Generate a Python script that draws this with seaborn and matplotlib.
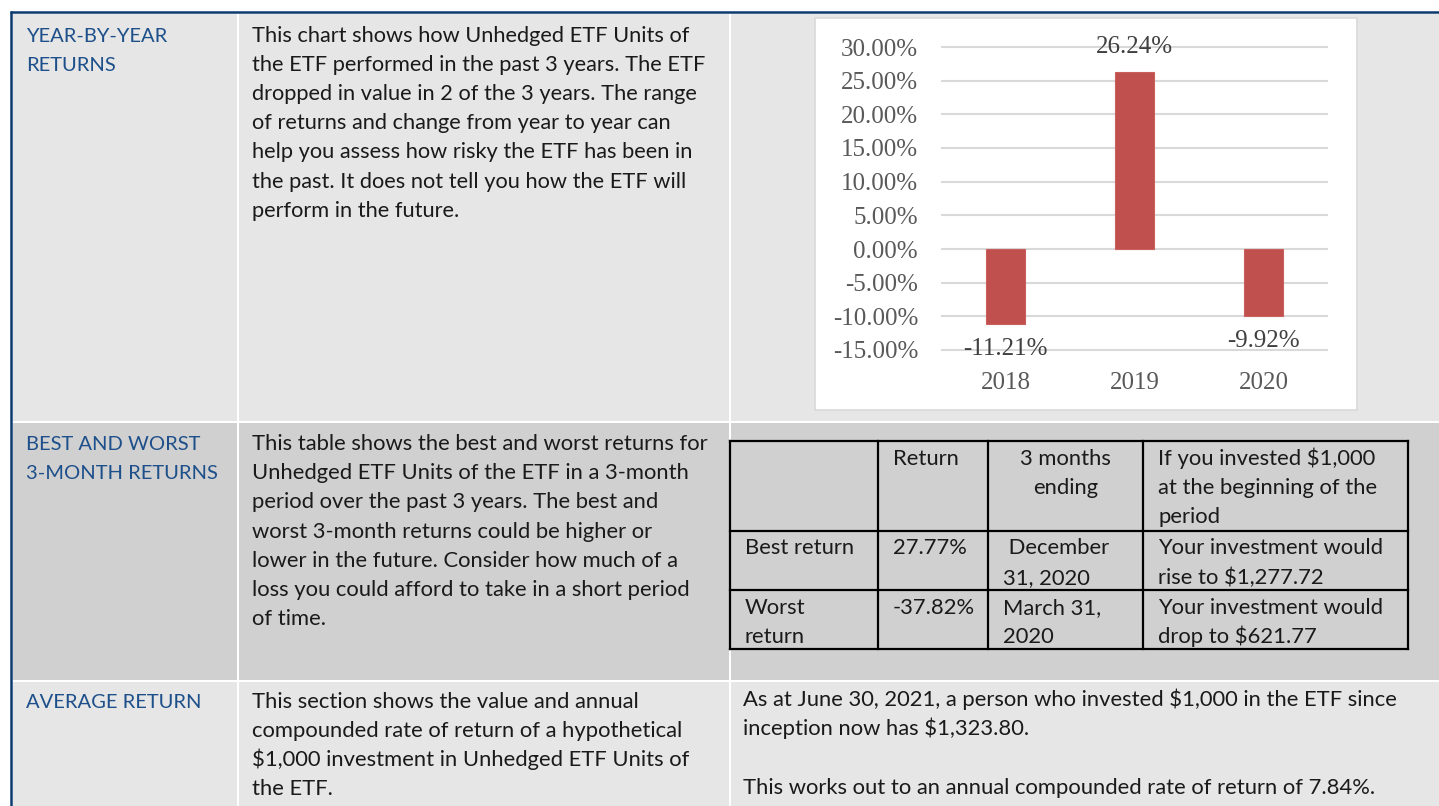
import numpy as np
import pandas as pd
import matplotlib
matplotlib.use('Agg')
import matplotlib.pyplot as plt
import seaborn as sns
from matplotlib.patches import Rectangle

### Data ###
years = ['2018', '2019', '2020']
returns = [-11.21, 26.24, -9.92]
ytick_values = [-15, -10, -5, 0, 5, 10, 15, 20, 25, 30]

heading_1 = ['YEAR-BY-YEAR', 'RETURNS']
heading_2 = ['BEST AND WORST', '3-MONTH RETURNS']
heading_3 = ['AVERAGE RETURN']

text_1 = ['This chart shows how Unhedged ETF Units of',
          'the ETF performed in the past 3 years. The ETF',
          'dropped in value in 2 of the 3 years. The range',
          'of returns and change from year to year can',
          'help you assess how risky the ETF has been in',
          'the past. It does not tell you how the ETF will',
          'perform in the future.']
text_2 = ['This table shows the best and worst returns for',
          'Unhedged ETF Units of the ETF in a 3-month',
          'period over the past 3 years. The best and',
          'worst 3-month returns could be higher or',
          'lower in the future. Consider how much of a',
          'loss you could afford to take in a short period',
          'of time.']
text_3 = ['This section shows the value and annual',
          'compounded rate of return of a hypothetical',
          '$1,000 investment in Unhedged ETF Units of',
          'the ETF.']
average_text = ['As at June 30, 2021, a person who invested $1,000 in the ETF since',
                'inception now has $1,323.80.',
                '',
                'This works out to an annual compounded rate of return of 7.84%.']

table_header = [[''], ['Return'], ['3 months', 'ending'],
                ['If you invested $1,000', 'at the beginning of the', 'period']]
table_best = [['Best return'], ['27.77%'], [' December', '31, 2020'],
              ['Your investment would', 'rise to $1,277.72']]
table_worst = [['Worst', 'return'], ['-37.82%'], ['March 31,', '2020'],
               ['Your investment would', 'drop to $621.77']]

### Style ###
sns.set_theme(style='white')
plt.rcParams['font.family'] = ['Lato', 'DejaVu Sans']
plt.rcParams['text.parse_math'] = False

navy = '#0a3a6e'
head_blue = '#1d4f8a'
ink = '#1a1a1a'
light = '#e6e6e6'
dark = '#d0d0d0'
size_head = 14.5
size_1 = 15.7
size_2 = 15.8

fig = plt.figure(figsize=(14.39, 8.06), dpi=100)
bg = fig.add_axes([0, 0, 1, 1])
bg.set_xlim(0, 1439)
bg.set_ylim(806, 0)
bg.axis('off')

# row backgrounds
bg.add_patch(Rectangle((12.5, 13.5), 1439, 407, color=light, lw=0))
bg.add_patch(Rectangle((12.5, 422.5), 1439, 257, color=dark, lw=0))
bg.add_patch(Rectangle((12.5, 681.5), 1439, 130, color=light, lw=0))
# white column separators
for xs in [236.5, 728.5]:
    bg.add_patch(Rectangle((xs, 13.5), 2, 800, color='white', lw=0))
# navy border
bg.plot([10, 1439], [12.2, 12.2], color=navy, lw=1.8, solid_capstyle='butt')
bg.plot([11.2, 11.2], [11, 806], color=navy, lw=1.8, solid_capstyle='butt')

def write_lines(x, y0, lines, size, color=ink, ha='left'):
    for i, line in enumerate(lines):
        bg.text(x, y0 + i * 29.2, line, fontsize=size, color=color, ha=ha, va='baseline')

write_lines(26, 41.5, heading_1, size_head, head_blue)
write_lines(252, 41.5, text_1, size_1)
write_lines(26, 450, heading_2, size_head, head_blue)
write_lines(252, 450, text_2, size_2)
write_lines(26, 707.5, heading_3, size_head, head_blue)
write_lines(252, 707.5, text_3, size_2)
write_lines(743, 706, average_text, size_2)

# chart box
bg.add_patch(Rectangle((815, 17.5), 542, 392, facecolor='white', edgecolor='#d9d9d9', lw=1.2))

# best / worst table
col_edges = [730, 878, 988, 1143, 1408]
row_edges = [441, 530.5, 590, 649]
for yy in row_edges:
    bg.plot([col_edges[0], col_edges[-1]], [yy, yy], color='black', lw=1.6, solid_capstyle='projecting')
for xx in col_edges:
    bg.plot([xx, xx], [row_edges[0], row_edges[-1]], color='black', lw=1.6, solid_capstyle='projecting')
for r, row in enumerate([table_header, table_best, table_worst]):
    for c, cell in enumerate(row):
        if r == 0 and c == 2:
            write_lines((col_edges[c] + col_edges[c + 1]) / 2, row_edges[r] + 24, cell, size_2, ha='center')
        else:
            write_lines(col_edges[c] + 15, row_edges[r] + 24, cell, size_2)

### Bar chart ###
px = 303 / 45
ax = fig.add_axes([941 / 1439, 1 - (350 + 0.4 * px) / 806, 387 / 1439, (303 + 0.8 * px) / 806])
sns.barplot(x=years, y=returns, color='#c0504d', saturation=1, width=0.31,
            edgecolor='#c9605d', linewidth=0.8, ax=ax)
ax.set_xlim(-0.5, 2.5)
ax.set_ylim(-15.4, 30.4)
ax.set_yticks(ytick_values)
ax.set_yticklabels(['{:.2f}%'.format(v) for v in ytick_values])
ax.yaxis.grid(True, color='#d9d9d9', lw=1.5)
ax.set_axisbelow(True)
ax.patch.set_visible(False)
for s in ax.spines.values():
    s.set_visible(False)
ax.set_xlabel('')
ax.set_ylabel('')
ax.tick_params(axis='y', length=0, pad=16.5, labelsize=18, labelcolor='#595959')
ax.tick_params(axis='x', length=0, pad=14, labelsize=18, labelcolor='#595959')
for lab in ax.get_xticklabels() + ax.get_yticklabels():
    lab.set_family('Liberation Serif')

for i, v in enumerate(returns):
    ax.annotate('{:.2f}%'.format(v), (i, v), xytext=(0, 18 if v > 0 else -18),
                textcoords='offset points', ha='center', va='center',
                fontsize=18, color='#404040', family='Liberation Serif')

fig.savefig('out.png', dpi=100, facecolor='white')
